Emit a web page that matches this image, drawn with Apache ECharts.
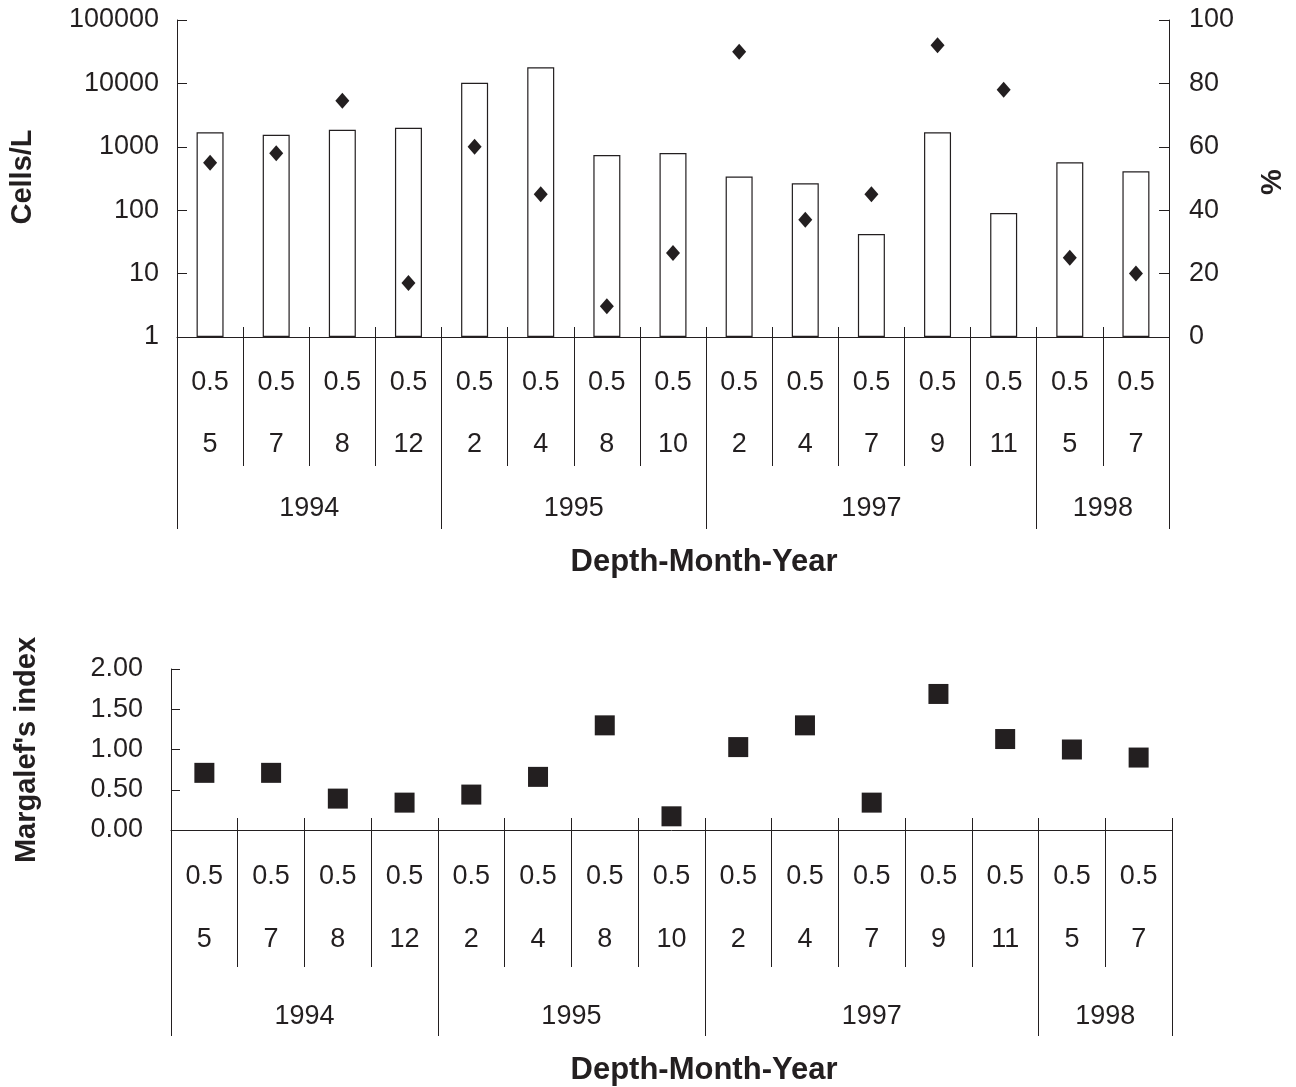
<!DOCTYPE html>
<html>
<head>
<meta charset="utf-8">
<script src="https://cdn.jsdelivr.net/npm/echarts@6/dist/echarts.min.js"></script>
<style>
html,body{margin:0;padding:0;background:#fff;}
#c{width:1296px;height:1087px;}
</style>
</head>
<body>
<div id="c"></div>
<script>
// ---- data ----
const depths = ['0.5','0.5','0.5','0.5','0.5','0.5','0.5','0.5','0.5','0.5','0.5','0.5','0.5','0.5','0.5'];
const months = ['5','7','8','12','2','4','8','10','2','4','7','9','11','5','7'];
const yearLabels = ['1994','1995','1997','1998'];
const yearCounts = [4, 4, 5, 2];
const cellsPerL = [1700, 1550, 1850, 2000, 10200, 18000, 740, 800, 340, 265, 42, 1700, 90, 570, 410];
const percent = [55, 58, 74.5, 17, 60, 45, 9.7, 26.5, 90, 37, 45, 92, 78, 25, 20];
const margalef = [0.71, 0.71, 0.39, 0.34, 0.44, 0.66, 1.30, 0.17, 1.03, 1.30, 0.34, 1.69, 1.13, 1.00, 0.90];

// ---- derived axis helpers ----
const INK = '#231f20';
const FONT = "'Liberation Sans', Arial, sans-serif";
const nCat = months.length;
const yearBounds = [0];
yearCounts.forEach(c => yearBounds.push(yearBounds[yearBounds.length - 1] + c));
const yearCenters = yearCounts.map((c, i) => (yearBounds[i] + yearBounds[i + 1]) / 2);

function yearFormatter(v) {
  for (let i = 0; i < yearCenters.length; i++) {
    if (Math.abs(yearCenters[i] - v) < 1e-6) return yearLabels[i];
  }
  return '';
}

const labelStyle = { color: INK, fontSize: 27, fontFamily: FONT };
const lineStyle = { color: INK, width: 1 };

function xAxesFor(gridIndex, innerTick, depthMargin, monthMargin, yearMargin, monthLen, yearLen) {
  return [
    { // depth row + axis line
      type: 'category', gridIndex, position: 'bottom', data: depths,
      axisLine: { show: true, onZero: false, lineStyle },
      axisTick: { show: true, inside: true, length: innerTick, lineStyle },
      axisLabel: Object.assign({ margin: depthMargin, interval: 0 }, labelStyle),
      splitLine: { show: false }
    },
    { // month row + separators
      type: 'category', gridIndex, position: 'bottom', data: months,
      axisLine: { show: false, onZero: false },
      axisTick: { show: true, inside: false, length: monthLen, lineStyle },
      axisLabel: Object.assign({ margin: monthMargin, interval: 0 }, labelStyle),
      splitLine: { show: false }
    },
    { // year row + separators
      type: 'value', gridIndex, position: 'bottom', min: 0, max: nCat,
      axisLine: { show: false, onZero: false },
      axisTick: { show: true, inside: false, length: yearLen, lineStyle, customValues: yearBounds },
      axisLabel: Object.assign({ margin: yearMargin, customValues: yearCenters, formatter: yearFormatter }, labelStyle),
      splitLine: { show: false }
    }
  ];
}

const chart = echarts.init(document.getElementById('c'), null, { renderer: 'canvas' });

const titleFont = "bold 31px 'Liberation Sans', Arial, sans-serif";
const yTitleFont = "bold 29px 'Liberation Sans', Arial, sans-serif";
const option = {
  backgroundColor: '#fff',
  animation: false,
  textStyle: { fontFamily: FONT },
  grid: [
    { left: 177, right: 127, top: 20, bottom: 750, containLabel: false },
    { left: 171, right: 124, top: 669, bottom: 257, containLabel: false }
  ],
  xAxis: [].concat(
    xAxesFor(0, 10, 32, 94, 158, 129, 192),
    xAxesFor(1, 12, 33, 96, 173, 137, 206)
  ),
  yAxis: [
    {
      type: 'log', gridIndex: 0, position: 'left', logBase: 10, min: 1, max: 100000,
      axisLine: { show: true, onZero: false, lineStyle },
      axisTick: { show: true, inside: true, length: 10, lineStyle },
      axisLabel: Object.assign({ margin: 18, formatter: v => String(Math.round(v)) }, labelStyle),
      splitLine: { show: false }, minorTick: { show: false }
    },
    {
      type: 'value', gridIndex: 0, position: 'right', min: 0, max: 100, interval: 20,
      axisLine: { show: true, onZero: false, lineStyle },
      axisTick: { show: true, inside: true, length: 10, lineStyle },
      axisLabel: Object.assign({ margin: 20 }, labelStyle),
      splitLine: { show: false }
    },
    {
      type: 'value', gridIndex: 1, position: 'left', min: 0, max: 2, interval: 0.5,
      axisLine: { show: true, onZero: false, lineStyle },
      axisTick: { show: true, inside: true, length: 9, lineStyle },
      axisLabel: Object.assign({ margin: 28, formatter: v => v.toFixed(2) }, labelStyle),
      splitLine: { show: false }
    }
  ],
  series: [
    {
      name: 'Cells/L', type: 'bar', xAxisIndex: 0, yAxisIndex: 0,
      data: cellsPerL, barWidth: 27,
      itemStyle: { color: '#ffffff', borderColor: INK, borderWidth: 1.2, opacity: 1 },
      z: 2
    },
    {
      name: '%', type: 'scatter', xAxisIndex: 0, yAxisIndex: 1,
      data: percent, symbol: 'diamond', symbolSize: [14, 16],
      itemStyle: { color: INK, opacity: 1 }, z: 3
    },
    {
      name: "Margalef's index", type: 'scatter', xAxisIndex: 3, yAxisIndex: 2,
      data: margalef, symbol: 'rect', symbolSize: 20,
      itemStyle: { color: INK, opacity: 1 }, z: 3
    }
  ],
  graphic: [
    { type: 'text', x: 704, y: 562, style: { text: 'Depth-Month-Year', fill: INK, font: titleFont, textAlign: 'center', textVerticalAlign: 'middle' } },
    { type: 'text', x: 704, y: 1070, style: { text: 'Depth-Month-Year', fill: INK, font: titleFont, textAlign: 'center', textVerticalAlign: 'middle' } },
    { type: 'text', x: 23, y: 177, rotation: Math.PI / 2, style: { text: 'Cells/L', fill: INK, font: yTitleFont, textAlign: 'center', textVerticalAlign: 'middle' } },
    { type: 'text', x: 1273, y: 182, rotation: Math.PI / 2, style: { text: '%', fill: INK, font: yTitleFont, textAlign: 'center', textVerticalAlign: 'middle' } },
    { type: 'text', x: 27, y: 750, rotation: Math.PI / 2, style: { text: "Margalef's index", fill: INK, font: yTitleFont, textAlign: 'center', textVerticalAlign: 'middle' } }
  ]
};
chart.setOption(option);
</script>
</body>
</html>
